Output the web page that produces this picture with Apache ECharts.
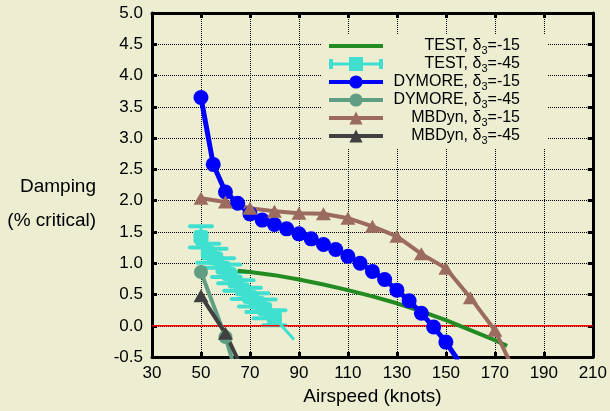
<!DOCTYPE html>
<html>
<head>
<meta charset="utf-8">
<script src="https://cdn.jsdelivr.net/npm/echarts/dist/echarts.min.js"></script>
<style>
  html, body { margin: 0; padding: 0; background: #ededd1; }
  #chart { width: 610px; height: 411px; }
</style>
</head>
<body>
<div id="chart"></div>
<script>
// series names (rich text, subscript 3)
var names = ['TEST, δ3=-15', 'TEST, δ3=-45', 'DYMORE, δ3=-15', 'DYMORE, δ3=-45', 'MBDyn, δ3=-15', 'MBDyn, δ3=-45'];

// TEST, d3=-15 (smooth curve)
var test15X = [65, 70, 80, 90, 100, 110, 120, 130, 140, 150, 160, 170, 175];
var test15Y = [0.88, 0.86, 0.81, 0.74, 0.66, 0.57, 0.47, 0.36, 0.23, 0.09, -0.07, -0.23, -0.32];

// TEST, d3=-45 (with error bars), last point is the line end without marker
var test45X = [50, 53, 56, 59, 61.5, 64, 67, 70, 73, 76, 80, 88];
var test45Y = [1.42, 1.16, 1.08, 0.93, 0.83, 0.71, 0.58, 0.46, 0.37, 0.27, 0.13, -0.22];
var test45Err = [0.17, 0.15, 0.15, 0.15, 0.15, 0.15, 0.15, 0.15, 0.15, 0.15, 0.12, 0];

// DYMORE, d3=-15
var dym15X = [50, 55, 60, 65, 70, 75, 80, 85, 90, 95, 100, 105, 110, 115, 120, 125, 130, 135, 140, 145, 150, 155];
var dym15Y = [3.65, 2.58, 2.14, 1.96, 1.79, 1.69, 1.62, 1.55, 1.47, 1.39, 1.30, 1.22, 1.11, 1.00, 0.87, 0.74, 0.57, 0.40, 0.20, -0.02, -0.26, -0.55];

// DYMORE, d3=-45
var dym45X = [50, 60, 70];
var dym45Y = [0.86, -0.18, -1.5];

// MBDyn, d3=-15
var mbd15X = [50, 60, 70, 80, 90, 100, 110, 120, 130, 140, 150, 160, 170, 180];
var mbd15Y = [2.04, 1.98, 1.88, 1.83, 1.80, 1.79, 1.72, 1.59, 1.43, 1.15, 0.92, 0.45, -0.07, -0.9];

// MBDyn, d3=-45
var mbd45X = [50, 60, 70];
var mbd45Y = [0.48, -0.12, -0.95];

// zero reference line
var zeroX = [30, 210];
var zeroY = [0, 0];

var colors = ['#228b22', '#40e0d0', '#0000ff', '#5f9e82', '#9c6b5f', '#404040'];
var font = 'Liberation Sans, Arial, sans-serif';

function pairs(xs, ys) {
  return xs.map(function (x, i) { return [x, ys[i]]; });
}

function richName(n) {
  var parts = n.split('δ3');
  return '{a|' + parts[0] + 'δ}{s|3}{a|' + parts[1] + '}';
}

var test45Data = pairs(test45X, test45Y).map(function (p, i) {
  return i === test45X.length - 1 ? { value: p, symbol: 'none' } : p;
});
var errData = test45X.slice(0, -1).map(function (x, i) {
  return [x, test45Y[i] - test45Err[i], test45Y[i] + test45Err[i]];
});

var axisLineStyle = { color: '#000', width: 3 };
var tickStyle = { show: true, inside: true, length: 5, lineStyle: { color: '#000', width: 3 } };

var chart = echarts.init(document.getElementById('chart'));
chart.setOption({
  backgroundColor: '#ededd1',
  animation: false,
  textStyle: { fontFamily: font },
  grid: { left: 152, right: 17, top: 13, bottom: 51 },
  graphic: [
    { type: 'text', right: 610 - 96, top: 177, style: { text: 'Damping', fontSize: 19, fontFamily: font, fill: '#000' } },
    { type: 'text', right: 610 - 96, top: 211, style: { text: '(% critical)', fontSize: 19, fontFamily: font, fill: '#000' } }
  ],
  legend: {
    left: 322, top: 35,
    orient: 'vertical',
    padding: [3, 27, 3, 5],
    backgroundColor: '#ededd1',
    itemWidth: 54, itemHeight: 16.5, itemGap: 0,
    selectedMode: false,
    lineStyle: { width: 4 },
    formatter: richName,
    textStyle: {
      color: '#000', fontSize: 16, width: 132,
      rich: {
        a: { fontSize: 16, fontFamily: font, color: '#000', align: 'right', lineHeight: 20 },
        s: { fontSize: 11, fontFamily: font, color: '#000', align: 'right', lineHeight: 12, verticalAlign: 'bottom' }
      }
    },
    data: [
      { name: names[0], icon: 'path://M0 0H54V4H0Z' },
      { name: names[1], icon: 'path://M2 6.5H52V9.5H2Z M0 3H4V13H0Z M50 3H54V13H50Z M20 1H34V15H20Z' },
      { name: names[2] },
      { name: names[3] },
      { name: names[4] },
      { name: names[5] }
    ]
  },
  xAxis: [{
    type: 'value', min: 30, max: 210, interval: 20,
    name: 'Airspeed (knots)', nameLocation: 'middle', nameGap: 27,
    nameTextStyle: { fontSize: 19, color: '#000', fontFamily: font },
    axisLine: { onZero: false, lineStyle: axisLineStyle },
    axisTick: tickStyle,
    axisLabel: { fontSize: 17, color: '#000', margin: 8, fontFamily: font },
    splitLine: { show: true, lineStyle: { color: '#000', type: 'dotted', width: 1 } }
  }, {
    type: 'value', min: 30, max: 210, interval: 20, position: 'top',
    axisLine: { show: true, onZero: false, lineStyle: axisLineStyle },
    axisTick: tickStyle,
    axisLabel: { show: false },
    splitLine: { show: false }
  }],
  yAxis: [{
    type: 'value', min: -0.5, max: 5, interval: 0.5,
    axisLine: { show: true, onZero: false, lineStyle: axisLineStyle },
    axisTick: tickStyle,
    axisLabel: { fontSize: 17, color: '#000', margin: 9, fontFamily: font, formatter: function (v) { return v.toFixed(1); } },
    splitLine: { show: true, lineStyle: { color: '#000', type: 'dotted', width: 1 } }
  }, {
    type: 'value', min: -0.5, max: 5, interval: 0.5, position: 'right',
    axisLine: { show: true, onZero: false, lineStyle: axisLineStyle },
    axisTick: tickStyle,
    axisLabel: { show: false },
    splitLine: { show: false }
  }],
  series: [
    {
      name: 'zero', type: 'line', symbol: 'none', silent: true,
      lineStyle: { color: '#ff0000', width: 1.6 },
      data: pairs(zeroX, zeroY)
    },
    {
      name: names[0], type: 'line', symbol: 'none', color: colors[0],
      lineStyle: { width: 4 },
      data: pairs(test15X, test15Y)
    },
    {
      name: 'test45err', type: 'custom', color: colors[1],
      data: errData,
      renderItem: function (params, api) {
        var lo = api.coord([api.value(0), api.value(1)]);
        var hi = api.coord([api.value(0), api.value(2)]);
        var hw = 11;
        var st = { stroke: colors[1], lineWidth: 4, lineCap: 'round' };
        return {
          type: 'group',
          children: [
            { type: 'line', shape: { x1: lo[0], y1: lo[1], x2: hi[0], y2: hi[1] }, style: { stroke: colors[1], lineWidth: 3 } },
            { type: 'line', shape: { x1: lo[0] - hw, y1: lo[1], x2: lo[0] + hw, y2: lo[1] }, style: st },
            { type: 'line', shape: { x1: hi[0] - hw, y1: hi[1], x2: hi[0] + hw, y2: hi[1] }, style: st }
          ]
        };
      }
    },
    {
      name: names[1], type: 'line', color: colors[1],
      symbol: 'roundRect', symbolSize: [15, 14],
      lineStyle: { width: 3 },
      data: test45Data
    },
    {
      name: names[2], type: 'line', color: colors[2],
      symbol: 'circle', symbolSize: 15,
      lineStyle: { width: 5 },
      data: pairs(dym15X, dym15Y)
    },
    {
      name: names[3], type: 'line', color: colors[3],
      symbol: 'circle', symbolSize: 14,
      lineStyle: { width: 4 },
      data: pairs(dym45X, dym45Y)
    },
    {
      name: names[4], type: 'line', color: colors[4],
      symbol: 'triangle', symbolSize: [15, 13],
      lineStyle: { width: 4 },
      data: pairs(mbd15X, mbd15Y)
    },
    {
      name: names[5], type: 'line', color: colors[5],
      symbol: 'triangle', symbolSize: [15, 13],
      lineStyle: { width: 4 },
      data: pairs(mbd45X, mbd45Y)
    }
  ]
});
</script>
</body>
</html>
